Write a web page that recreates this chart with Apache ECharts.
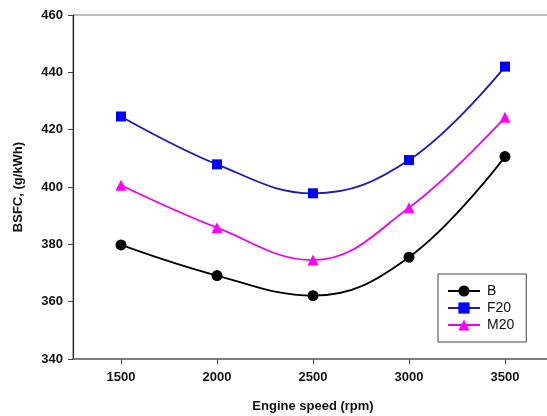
<!DOCTYPE html>
<html>
<head>
<meta charset="utf-8">
<script src="https://cdn.jsdelivr.net/npm/echarts@6/dist/echarts.min.js"></script>
<style>
html,body{margin:0;padding:0;background:#fff;}
#chart{width:547px;height:416px;}
</style>
</head>
<body>
<div id="chart"></div>
<script>
const speeds = ['1500', '2000', '2500', '3000', '3500'];
const bValues = [379.8, 369.1, 362.1, 375.5, 410.6];
const f20Values = [424.6, 407.9, 397.8, 409.4, 442.0];
const m20Values = [400.6, 385.8, 374.5, 392.8, 424.3];
const yTicks = {min: 340, max: 460, interval: 20};

const FONT = '"Liberation Sans", Arial, sans-serif';
const chart = echarts.init(document.getElementById('chart'), null, {renderer: 'canvas'});

function series(name, data, symbol, size, lineColor, markerColor) {
  return {
    name: name,
    type: 'line',
    data: data,
    smooth: 0.4,
    symbol: symbol,
    symbolSize: size,
    showAllSymbol: true,
    lineStyle: {color: lineColor, width: 1.8},
    itemStyle: {color: markerColor, borderColor: markerColor, borderWidth: 0},
    emphasis: {disabled: true},
    z: 3
  };
}

chart.setOption({
  animation: false,
  backgroundColor: '#fff',
  grid: {
    left: 73, top: 15, width: 480, height: 344,
    outerBoundsMode: 'none',
    containLabel: false,
    show: true, borderColor: '#7a7a7a', borderWidth: 1, backgroundColor: 'transparent'
  },
  xAxis: {
    type: 'category',
    data: speeds,
    boundaryGap: true,
    name: 'Engine speed (rpm)',
    nameLocation: 'middle',
    nameGap: 41,
    nameTextStyle: {fontFamily: FONT, fontSize: 13, fontWeight: 'bold', color: '#111'},
    axisLine: {show: true, lineStyle: {color: '#6a6a6a', width: 1.5}},
    axisTick: {show: true, alignWithLabel: true, inside: false, length: 5, lineStyle: {color: '#444'}},
    axisLabel: {fontFamily: FONT, fontSize: 13, fontWeight: 'bold', color: '#111', margin: 12},
    splitLine: {show: false}
  },
  yAxis: {
    type: 'value',
    min: yTicks.min, max: yTicks.max, interval: yTicks.interval,
    name: 'BSFC, (g/kWh)',
    nameLocation: 'middle',
    nameGap: 48,
    nameTextStyle: {fontFamily: FONT, fontSize: 13, fontWeight: 'bold', color: '#111'},
    axisLine: {show: true, lineStyle: {color: '#222', width: 1.2}},
    axisTick: {show: true, inside: false, length: 5, lineStyle: {color: '#444'}},
    axisLabel: {fontFamily: FONT, fontSize: 13, fontWeight: 'bold', color: '#111', margin: 10},
    splitLine: {show: false}
  },
  legend: {
    orient: 'vertical',
    left: 438, top: 274,
    padding: [10, 12, 10, 9],
    itemGap: 3,
    itemWidth: 32, itemHeight: 14,
    borderColor: '#444', borderWidth: 1,
    backgroundColor: '#fff',
    textStyle: {fontFamily: FONT, fontSize: 14, color: '#111', padding: [0, 0, 0, 2]},
    data: ['B', 'F20', 'M20']
  },
  series: [
    series('B', bValues, 'circle', 11, '#000', '#000'),
    series('F20', f20Values, 'rect', 10, '#1a1ab8', '#0000ff'),
    series('M20', m20Values, 'triangle', 11, '#ee00ee', '#ff00ff')
  ]
});
</script>
</body>
</html>
